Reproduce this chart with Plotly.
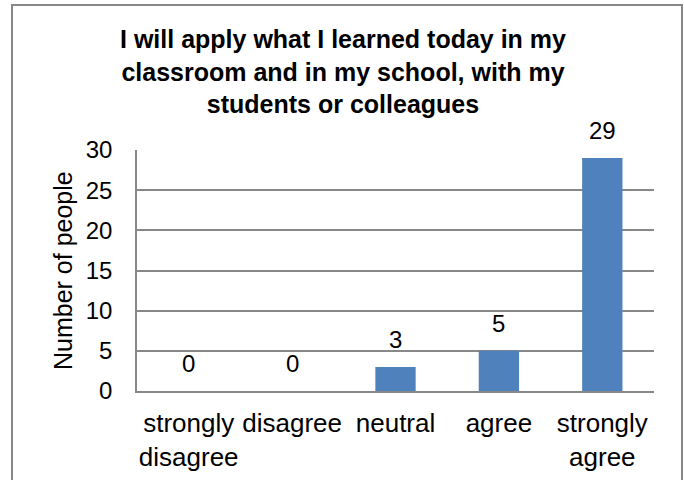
import plotly.graph_objects as go

categories = ["strongly<br>disagree", "disagree", "neutral", "agree", "strongly<br>agree"]
counts = [0, 0, 3, 5, 29]
y_ticks = [0, 5, 10, 15, 20, 25, 30]
title_text = "I will apply what I learned today in my<br>classroom and in my school, with my<br>students or colleagues"
y_title = "Number of people"

W, H = 684, 480
ml, mr, mt, mb = 137, 30, 150, 89
pw, ph = W - ml - mr, H - mt - mb

fig = go.Figure(go.Bar(
    x=categories, y=counts,
    marker=dict(color="#4F81BD", line=dict(width=0)),
    width=0.39,
))

# value labels above bars
for c, v in zip(categories, counts):
    fig.add_annotation(x=c, y=v, text=str(v), showarrow=False,
                       yanchor="bottom", yshift=12,
                       font=dict(size=24, color="#000000"))

# y-axis title
fig.add_annotation(text=y_title, xref="paper", yref="paper",
                   x=(63 - ml) / pw, y=(mt + ph - 271) / ph,
                   xanchor="center", yanchor="middle", textangle=-90, showarrow=False,
                   font=dict(size=25, color="#000000"))

fig.update_layout(
    width=W, height=H,
    margin=dict(l=ml, r=mr, t=mt, b=mb, autoexpand=False),
    paper_bgcolor="white", plot_bgcolor="white",
    font=dict(family="Liberation Sans, Arial, sans-serif", color="#000000"),
    showlegend=False,
    title=dict(text="<b>" + title_text + "</b>", x=343 / W, xanchor="center",
               y=1 - 48 / H, yanchor="top", yref="container",
               font=dict(size=25, color="#000000")),
    xaxis=dict(showline=True, linecolor="#888888", linewidth=1.5, ticks="",
               tickfont=dict(size=26), ticklabelstandoff=8, fixedrange=True),
    yaxis=dict(range=[0, 30], tickvals=y_ticks, showgrid=True, gridcolor="#888888", gridwidth=1.5,
               showline=True, linecolor="#888888", linewidth=1.5, ticks="", zeroline=False,
               tickfont=dict(size=24), ticklabelstandoff=18, fixedrange=True),
)

# outer chart border
fig.add_shape(type="rect", xref="paper", yref="paper",
              x0=(12 - ml) / pw, x1=(682 - ml) / pw,
              y0=(mt + ph - 485) / ph, y1=(mt + ph - 5) / ph,
              line=dict(color="#888888", width=2), fillcolor="rgba(0,0,0,0)", layer="below")

fig.write_html("out.html", config={"displayModeBar": False},
               post_script="document.body.style.margin='0';")
